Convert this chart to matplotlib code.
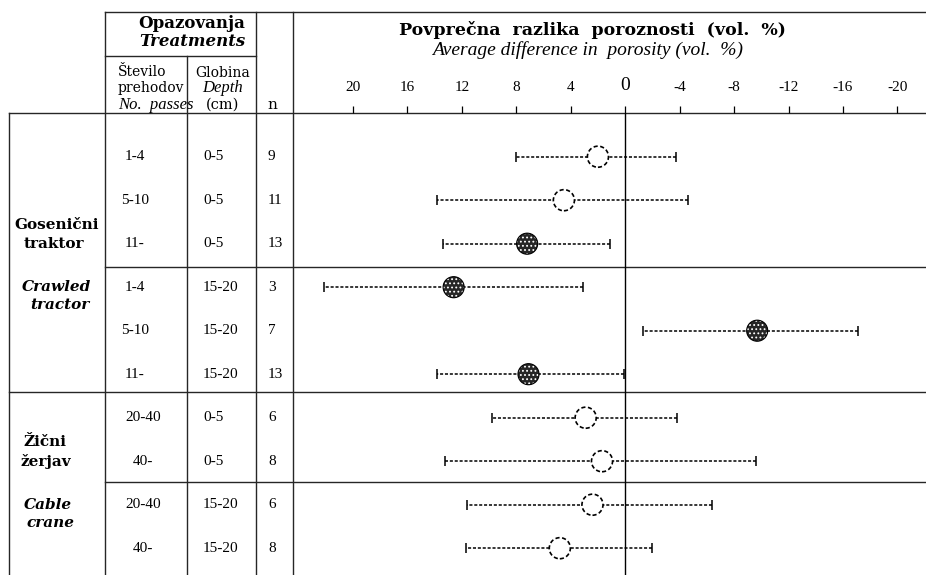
import matplotlib.pyplot as plt

# === data ===
passes = ["1-4", "5-10", "11-", "1-4", "5-10", "11-", "20-40", "40-", "20-40", "40-"]
depths = ["0-5", "0-5", "0-5", "15-20", "15-20", "15-20", "0-5", "0-5", "15-20", "15-20"]
n_obs = [9, 11, 13, 3, 7, 13, 6, 8, 6, 8]
mean_diff = [2.0, 4.5, 7.2, 12.6, -9.7, 7.1, 2.9, 1.7, 2.4, 4.8]
ci_high = [8.0, 13.8, 13.4, 22.1, -1.3, 13.8, 9.8, 13.2, 11.6, 11.7]
ci_low = [-3.75, -4.65, 1.15, 3.1, -17.1, 0.1, -3.8, -9.6, -6.4, -2.0]
significant = [False, False, True, True, True, True, False, False, False, False]
x_ticks = [20, 16, 12, 8, 4, 0, -4, -8, -12, -16, -20]

plt.rcParams["font.family"] = ["Liberation Serif", "DejaVu Serif"]
plt.rcParams["hatch.linewidth"] = 0.8
WIDE = ["DejaVu Serif"]

W, H = 926, 575
fig = plt.figure(figsize=(W / 100, H / 100), dpi=100)

# === table layer (pixel coords) ===
tab = fig.add_axes([0, 0, 1, 1])
tab.set_xlim(0, W)
tab.set_ylim(H, 0)
tab.axis("off")

ROW0, STEP = 156.7, 43.5


def row_y(i):
    return ROW0 + STEP * i


rule = dict(color="#262626", lw=1.0)
# horizontal rules
tab.plot([105, W], [11.7, 11.7], **rule)
tab.plot([105, 256], [56, 56], **rule)
tab.plot([9, W], [113, 113], **rule)
tab.plot([105, W], [266.7, 266.7], **rule)
tab.plot([9, W], [391.7, 391.7], **rule)
tab.plot([105, W], [481.7, 481.7], **rule)
# vertical rules
tab.plot([9, 9], [113, H], **rule)
tab.plot([105, 105], [11.7, H], **rule)
tab.plot([187, 187], [56, H], **rule)
tab.plot([256, 256], [11.7, H], **rule)
tab.plot([293, 293], [11.7, H], **rule)

# header
tab.text(192, 24, "Opazovanja", ha="center", va="center", fontsize=12,
         fontweight="bold", family=WIDE)
tab.text(192, 42, "Treatments", ha="center", va="center", fontsize=12,
         fontweight="bold", style="italic", family=WIDE)
tab.text(118, 72, "Število", ha="left", va="center", fontsize=10, family=WIDE)
tab.text(118, 88, "prehodov", ha="left", va="center", fontsize=10, family=WIDE)
tab.text(118, 105, "No.  passes", ha="left", va="center", fontsize=12, style="italic")
tab.text(223, 73, "Globina", ha="center", va="center", fontsize=10, family=WIDE)
tab.text(223, 88, "Depth", ha="center", va="center", fontsize=12, style="italic")
tab.text(223, 105, "(cm)", ha="center", va="center", fontsize=10.5, family=WIDE)
tab.text(272, 105, "n", ha="center", va="center", fontsize=11, family=WIDE)

tab.text(592, 30, "Povprečna  razlika  poroznosti  (vol.  %)", ha="center", va="center",
         fontsize=12.5, fontweight="bold", family=WIDE)
tab.text(588, 50, "Average difference in  porosity (vol.  %)", ha="center", va="center",
         fontsize=14, style="italic")

# group labels
grp = dict(ha="center", va="center", fontsize=11, fontweight="bold", family=WIDE)
tab.text(57, row_y(2) - 19, "Gosenični", **grp)
tab.text(54, row_y(2), "traktor", **grp)
tab.text(56, row_y(3), "Crawled", style="italic", **grp)
tab.text(60, row_y(3) + 18, "tractor", style="italic", **grp)
tab.text(45, row_y(7) - 19, "Žični", **grp)
tab.text(46, row_y(7), "žerjav", **grp)
tab.text(48, row_y(8), "Cable", style="italic", **grp)
tab.text(50, row_y(8) + 18, "crane", style="italic", **grp)

# row labels
for i, (p, d, n) in enumerate(zip(passes, depths, n_obs)):
    px = 135 if i < 6 else 143
    tab.text(px, row_y(i), p, ha="center", va="center", fontsize=11)
    tab.text(203, row_y(i), d, ha="left", va="center", fontsize=11)
    tab.text(268, row_y(i), str(n), ha="left", va="center", fontsize=11)

# === forest plot ===
ax = fig.add_axes([293 / W, 0, (W - 293) / W, (H - 113) / H])
ax.set_xlim(24.4, -22.1)
ax.set_ylim((H - ROW0) / STEP, (113 - ROW0) / STEP)
ax.patch.set_alpha(0)
for s in ax.spines.values():
    s.set_visible(False)

rows = list(range(len(mean_diff)))
err_lo = [m - lo for m, lo in zip(mean_diff, ci_low)]
err_hi = [hi - m for m, hi in zip(mean_diff, ci_high)]
eb = ax.errorbar(mean_diff, rows, xerr=[err_lo, err_hi], fmt="none", ecolor="black",
                 elinewidth=1.1, capsize=3.5, capthick=1.1)
eb[2][0].set_linestyle((0, (2, 1.2)))

ax.axvline(0, color="black", lw=1.0, zorder=1)

open_x = [m for m, s in zip(mean_diff, significant) if not s]
open_y = [r for r, s in zip(rows, significant) if not s]
fill_x = [m for m, s in zip(mean_diff, significant) if s]
fill_y = [r for r, s in zip(rows, significant) if s]

ax.scatter(open_x, open_y, s=230, facecolor="white", edgecolor="black",
           linewidths=1.2, linestyles=(0, (2.5, 1.5)), zorder=3)
ax.scatter(fill_x, fill_y, s=230, facecolor="#262626", edgecolor="white",
           hatch="....", linewidths=0, zorder=3)
ax.scatter(fill_x, fill_y, s=230, facecolor="none", edgecolor="black",
           linewidths=0.8, zorder=4)

ax.xaxis.tick_top()
ax.set_xticks(x_ticks)
ax.set_xticklabels([str(t) for t in x_ticks])
ax.tick_params(axis="x", direction="out", length=5, width=0.9, pad=9,
               labelsize=11, colors="black")
ax.get_xticklabels()[5].set_fontsize(14)
ax.set_yticks([])

plt.savefig("out.png", dpi=100)
plt.close()
